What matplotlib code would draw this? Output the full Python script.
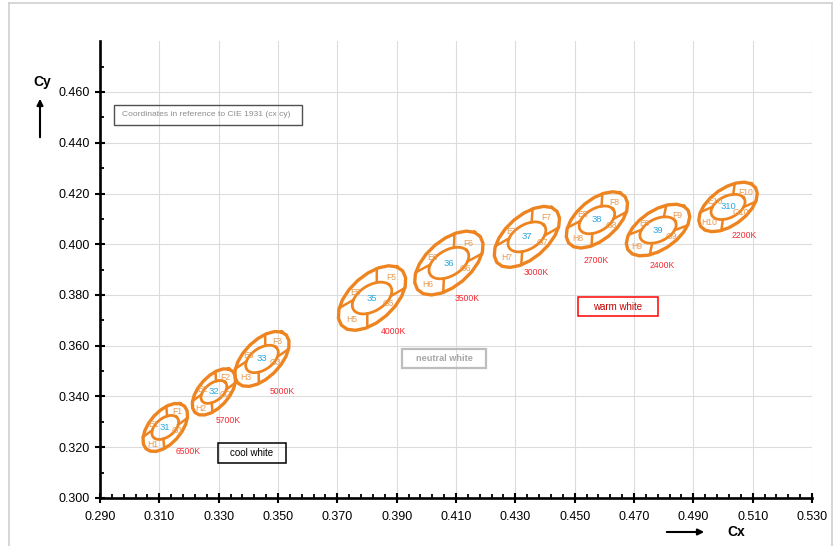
import numpy as np
import matplotlib
matplotlib.use('Agg')
import matplotlib.pyplot as plt
from matplotlib.patches import Rectangle, FancyArrowPatch
from matplotlib.lines import Line2D

plt.rcParams['font.family'] = ['Liberation Sans', 'DejaVu Sans']

# ---------------- data ----------------
bins = ['1', '2', '3', '5', '6', '7', '8', '9', '10']
cct_labels = ['6500K', '5700K', '5000K', '4000K', '3500K', '3000K', '2700K', '2400K', '2200K']
center_x = [0.3120, 0.3284, 0.3446, 0.3817, 0.4076, 0.4339, 0.4575, 0.4781, 0.5017]
center_y = [0.3278, 0.3418, 0.3548, 0.3788, 0.3926, 0.4029, 0.4096, 0.4056, 0.4147]
# outer ellipse (semi-axes in chromaticity units, tilt in degrees)
outer_a = [0.0107, 0.0104, 0.0126, 0.0150, 0.0150, 0.0144, 0.0133, 0.0129, 0.0121]
outer_b = [0.0057, 0.0054, 0.0066, 0.0082, 0.0082, 0.0077, 0.0073, 0.0072, 0.0068]
outer_tilt = [57.0, 56.3, 53.5, 50.9, 49.5, 49.5, 48.7, 42.4, 44.4]
# inner ellipse
inner_a = [0.0056, 0.0054, 0.0066, 0.0078, 0.0078, 0.0074, 0.0069, 0.0068, 0.0064]
inner_b = [0.0034, 0.0032, 0.0040, 0.0048, 0.0048, 0.0046, 0.0043, 0.0043, 0.0041]
inner_tilt = [48.0, 47.0, 44.0, 41.0, 40.0, 40.0, 39.0, 34.0, 35.0]
segments = ['E', 'F', 'G', 'H']

x_ticks = [0.290, 0.310, 0.330, 0.350, 0.370, 0.390, 0.410, 0.430, 0.450, 0.470, 0.490, 0.510, 0.530]
y_ticks = [0.300, 0.320, 0.340, 0.360, 0.380, 0.400, 0.420, 0.440, 0.460]

# ---------------- styles / layout ----------------
ORANGE = '#EE8420'
SEG_COL = '#E99A4E'
NUM_COL = '#2BA8E0'
CCT_COL = '#F52830'
# CCT label offsets from centre (pixels, right / down)
cct_off = [(23, 24), (14, 29), (20, 33), (21, 33), (18, 35), (9, 36), (-1, 41), (4, 35), (16, 29)]

W, H = 834, 546
fig = plt.figure(figsize=(W / 100, H / 100), dpi=100)
ax = fig.add_axes([100 / W, 1 - 498 / H, 712 / W, 456.75 / H])
ax.set_xlim(0.290, 0.530)
ax.set_ylim(0.300, 0.480)

ax.set_xticks(x_ticks)
ax.set_xticklabels(['%.3f' % v for v in x_ticks])
ax.set_yticks(y_ticks)
ax.set_yticklabels(['%.3f' % v for v in y_ticks])
ax.set_xticks(np.arange(0.290, 0.5301, 0.004), minor=True)
ax.set_yticks(np.arange(0.300, 0.4701, 0.010), minor=True)
ax.tick_params(which='major', direction='inout', length=7, width=1.5, labelsize=9,
               colors='black', pad=4)
ax.tick_params(axis='x', which='major', pad=6)
ax.tick_params(which='minor', direction='in', length=3, width=1.3)
for s in ['top', 'right']:
    ax.spines[s].set_visible(False)
for s in ['left', 'bottom']:
    ax.spines[s].set_linewidth(1.9)
ax.grid(True, which='major', color='#DCDCDC', lw=0.8, zorder=0)
ax.set_axisbelow(True)


def ell(cx, cy, a, b, th, t):
    th = np.radians(th)
    x = cx + a * np.cos(t) * np.cos(th) - b * np.sin(t) * np.sin(th)
    y = cy + a * np.cos(t) * np.sin(th) + b * np.sin(t) * np.cos(th)
    return x, y


t_out = np.radians(np.arange(9, 370, 18))
t_in = np.linspace(0, 2 * np.pi, 41)
spokes = np.radians([48, 132, 228, 312])
lab_t = {'E': (100, 0.70), 'F': (0, 0.68), 'G': (280, 0.70), 'H': (180, 0.74)}

for i in range(len(bins)):
    cx, cy = center_x[i], center_y[i]
    xo, yo = ell(cx, cy, outer_a[i], outer_b[i], outer_tilt[i], t_out)
    ax.plot(xo, yo, color=ORANGE, lw=2.4, solid_joinstyle='round', zorder=3)
    xi, yi = ell(cx, cy, inner_a[i], inner_b[i], inner_tilt[i], t_in)
    ax.plot(xi, yi, color=ORANGE, lw=2.0, zorder=3)
    for t in spokes:
        x1, y1 = ell(cx, cy, inner_a[i], inner_b[i], inner_tilt[i], t)
        x2, y2 = ell(cx, cy, outer_a[i], outer_b[i], outer_tilt[i], t)
        ax.plot([x1, x2], [y1, y2], color=ORANGE, lw=1.8, zorder=3)
    for sname in segments:
        tt, f = lab_t[sname]
        px, py = ell(0, 0, outer_a[i], outer_b[i], outer_tilt[i], np.radians(tt))
        ax.text(cx + f * px, cy + f * py, sname + bins[i], color=SEG_COL, fontsize=6.2,
                ha='center', va='center', zorder=4)
    ax.text(cx, cy, '3' + bins[i], color=NUM_COL, fontsize=6.8, ha='center', va='center', zorder=4)
    dx, dy = cct_off[i]
    ax.annotate(cct_labels[i], (cx, cy), xytext=(dx * 0.72, -dy * 0.72), textcoords='offset points',
                color=CCT_COL, fontsize=6.2, ha='center', va='center', zorder=4)


def pbox(x0, y0, x1, y1, ec, lw):
    fig.add_artist(Rectangle((x0 / W, 1 - y1 / H), (x1 - x0) / W, (y1 - y0) / H,
                             transform=fig.transFigure, fill=False, ec=ec, lw=lw, zorder=5))


def ptext(x, y, s, **kw):
    fig.text(x / W, 1 - y / H, s, ha='center', va='center', **kw)


pbox(114, 105, 302, 125, '#505050', 1.0)
ptext(206, 115, 'Coordinates in reference to CIE 1931 (cx cy)', fontsize=6.1, color='#8C8C8C')
pbox(402, 348.5, 485.5, 368, '#BDBDBD', 1.6)
ptext(444, 358.5, 'neutral white', fontsize=6.6, color='#A6A6A6', fontweight='bold')
pbox(578, 297, 658, 316, '#FF0000', 1.1)
ptext(618, 306.5, 'warm white', fontsize=7, color='#C00000')
pbox(218, 443, 286, 462.5, '#000000', 1.1)
ptext(252, 453, 'cool white', fontsize=7, color='black')

# axis names with arrows
ptext(42, 82, 'Cy', fontsize=10, fontweight='bold')
fig.add_artist(FancyArrowPatch((40 / W, 1 - 140 / H), (40 / W, 1 - 96 / H), transform=fig.transFigure,
                               arrowstyle='-|>', mutation_scale=9, lw=1.5, color='black'))
ptext(736, 532, 'Cx', fontsize=10, fontweight='bold')
fig.add_artist(FancyArrowPatch((664 / W, 1 - 532 / H), (707 / W, 1 - 532 / H), transform=fig.transFigure,
                               arrowstyle='-|>', mutation_scale=9, lw=1.5, color='black'))

# light frame around the chart area
for (xa, ya, xb, yb) in [(8.5, 2.5, 8.5, 546), (8.5, 2.5, 831.5, 2.5), (831.5, 2.5, 831.5, 546)]:
    fig.add_artist(Line2D([xa / W, xb / W], [1 - ya / H, 1 - yb / H], transform=fig.transFigure,
                          color='#CFCFCF', lw=1.2))

fig.savefig('out.png', dpi=100)
